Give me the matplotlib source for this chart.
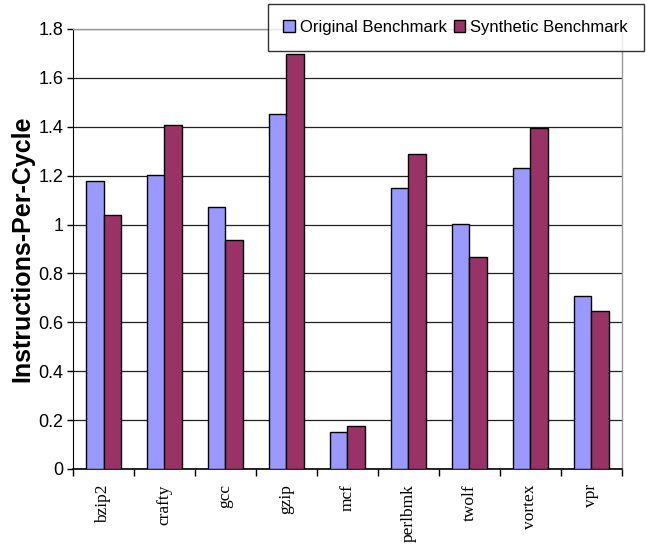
import matplotlib
matplotlib.use("Agg")
import matplotlib.pyplot as plt
import numpy as np
from matplotlib.ticker import FixedLocator, NullFormatter

benchmarks = ["bzip2", "crafty", "gcc", "gzip", "mcf", "perlbmk", "twolf", "vortex", "vpr"]
original_ipc = [1.178, 1.203, 1.073, 1.451, 0.153, 1.148, 1.003, 1.231, 0.709]
synthetic_ipc = [1.041, 1.406, 0.936, 1.696, 0.175, 1.287, 0.866, 1.393, 0.647]
y_ticks = [0, 0.2, 0.4, 0.6, 0.8, 1, 1.2, 1.4, 1.6, 1.8]
y_tick_labels = ["0", "0.2", "0.4", "0.6", "0.8", "1", "1.2", "1.4", "1.6", "1.8"]

fig = plt.figure(figsize=(6.58, 5.57), dpi=100)
ax = fig.add_axes([0.111, 0.158, 0.834, 0.790])

x = np.arange(len(benchmarks))
w = 0.29
ax.bar(x - w / 2, original_ipc, w, color="#9999FF", edgecolor="black", linewidth=1.0,
       label="Original Benchmark", zorder=3)
ax.bar(x + w / 2, synthetic_ipc, w, color="#993366", edgecolor="black", linewidth=1.0,
       label="Synthetic Benchmark", zorder=3)

ax.set_xlim(-0.5, len(benchmarks) - 0.5)
ax.set_ylim(0, 1.8)
ax.set_yticks(y_ticks)
ax.set_yticklabels(y_tick_labels, fontsize=13, family="Liberation Sans")
ax.yaxis.grid(True, color="#222222", linewidth=0.9, zorder=0)
ax.set_axisbelow(True)

ax.set_xticks(x)
ax.set_xticklabels(benchmarks, rotation=90, fontsize=12.5, family="Liberation Serif")
ax.tick_params(axis="x", which="major", length=0, pad=11)
ax.xaxis.set_minor_locator(FixedLocator(np.arange(-0.5, len(benchmarks), 1.0)))
ax.xaxis.set_minor_formatter(NullFormatter())
ax.tick_params(axis="x", which="minor", length=5, width=1, direction="out", color="black")
ax.tick_params(axis="y", length=4, width=1, direction="out", pad=3)

for s in ["top", "right"]:
    ax.spines[s].set_color("#999999")
    ax.spines[s].set_linewidth(1.0)
ax.spines["left"].set_color("black")
ax.spines["bottom"].set_color("black")
ax.spines["bottom"].set_linewidth(1.2)

ax.set_ylabel("Instructions-Per-Cycle", fontsize=18, fontweight="bold",
              family="Liberation Sans", labelpad=3)

leg = ax.legend(loc="upper right", bbox_to_anchor=(1.04, 1.057), ncol=2,
                fontsize=12, frameon=True, fancybox=False, edgecolor="black",
                handlelength=0.7, handleheight=0.7, handletextpad=0.3,
                columnspacing=0.4, borderpad=0.95, borderaxespad=0)
leg.get_frame().set_linewidth(1.0)
for t in leg.get_texts():
    t.set_family("Liberation Sans")

fig.savefig("out.png", dpi=100)
